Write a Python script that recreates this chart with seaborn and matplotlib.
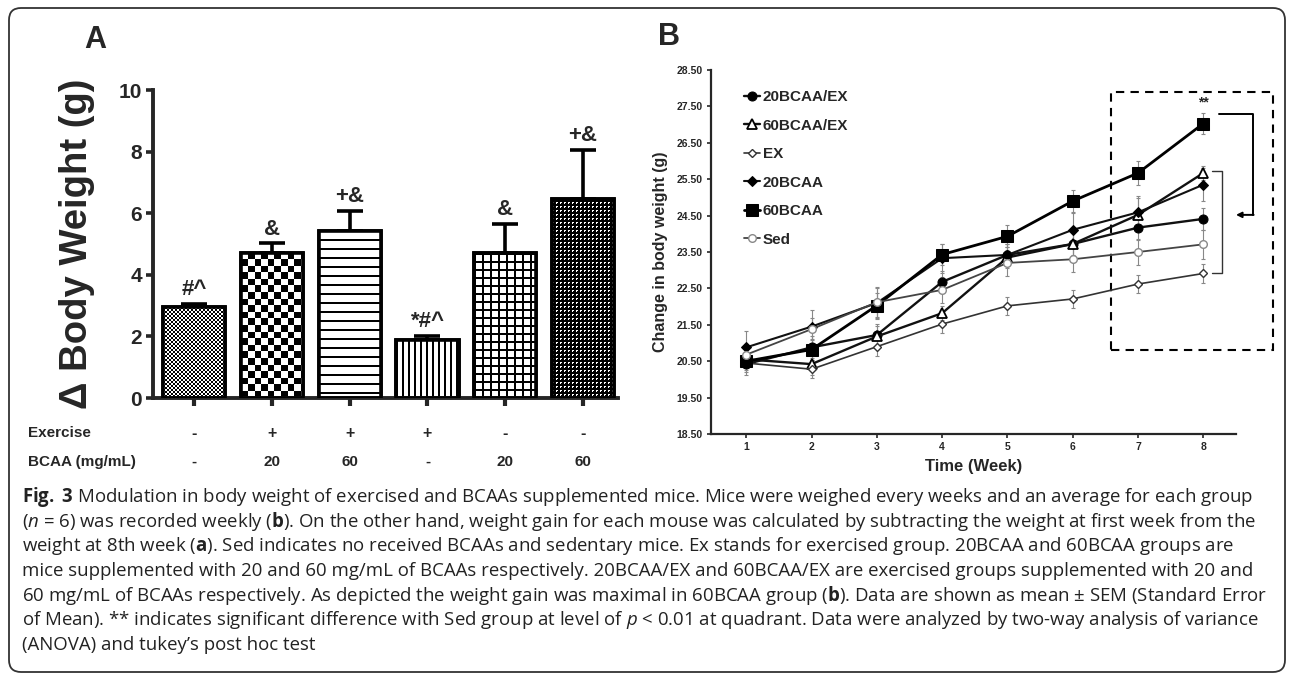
import numpy as np
import pandas as pd
import matplotlib
matplotlib.use("Agg")
import matplotlib.pyplot as plt
import seaborn as sns
from matplotlib.patches import Rectangle, FancyBboxPatch
from matplotlib.transforms import IdentityTransform

# ---------------- data ----------------
# Panel A
bar_groups = ["Sed", "20BCAA/EX", "60BCAA/EX", "EX", "20BCAA", "60BCAA"]
bar_values = [2.95, 4.72, 5.43, 1.87, 4.70, 6.47]
bar_sem = [0.10, 0.30, 0.65, 0.15, 0.95, 1.58]
bar_marks = ["#^", "&", "+&", "*#^", "&", "+&"]
exercise_row = ["-", "+", "+", "+", "-", "-"]
bcaa_row = ["-", "20", "60", "-", "20", "60"]
a_yticks = [0, 2, 4, 6, 8, 10]

# Panel B
weeks = [1, 2, 3, 4, 5, 6, 7, 8]
w_20bcaa_ex = [20.42, 20.88, 21.22, 22.68, 23.42, 23.72, 24.17, 24.41]
w_60bcaa_ex = [20.55, 20.42, 21.18, 21.82, 23.35, 23.72, 24.52, 25.67]
w_ex = [20.45, 20.28, 20.90, 21.52, 22.02, 22.21, 22.62, 22.91]
w_20bcaa = [20.88, 21.45, 22.10, 23.33, 23.42, 24.11, 24.59, 25.35]
w_60bcaa = [20.50, 20.82, 22.03, 23.43, 23.93, 24.90, 25.67, 27.03]
w_sed = [20.68, 21.38, 22.12, 22.46, 23.20, 23.30, 23.50, 23.71]
e_20bcaa_ex = [0.30, 0.30, 0.30, 0.30, 0.30, 0.35, 0.35, 0.30]
e_60bcaa_ex = [0.25, 0.30, 0.30, 0.20, 0.30, 0.30, 0.45, 0.20]
e_ex = [0.25, 0.25, 0.25, 0.25, 0.25, 0.25, 0.25, 0.25]
e_20bcaa = [0.45, 0.45, 0.45, 0.40, 0.30, 0.45, 0.45, 0.45]
e_60bcaa = [0.25, 0.30, 0.35, 0.30, 0.30, 0.30, 0.32, 0.30]
e_sed = [0.30, 0.30, 0.40, 0.35, 0.35, 0.35, 0.35, 0.40]
b_yticks = [18.5, 19.5, 20.5, 21.5, 22.5, 23.5, 24.5, 25.5, 26.5, 27.5, 28.5]

caption_lines = [
    r"$\bf{Fig.}$ $\bf{3}$ Modulation in body weight of exercised and BCAAs supplemented mice. Mice were weighed every weeks and an average for each group",
    r"($\it{n}$ = 6) was recorded weekly ($\bf{b}$). On the other hand, weight gain for each mouse was calculated by subtracting the weight at first week from the",
    r"weight at 8th week ($\bf{a}$). Sed indicates no received BCAAs and sedentary mice. Ex stands for exercised group. 20BCAA and 60BCAA groups are",
    r"mice supplemented with 20 and 60 mg/mL of BCAAs respectively. 20BCAA/EX and 60BCAA/EX are exercised groups supplemented with 20 and",
    r"60 mg/mL of BCAAs respectively. As depicted the weight gain was maximal in 60BCAA group ($\bf{b}$). Data are shown as mean ± SEM (Standard Error",
    r"of Mean). ** indicates significant difference with Sed group at level of $\it{p}$ < 0.01 at quadrant. Data were analyzed by two-way analysis of variance",
    r"(ANOVA) and tukey’s post hoc test",
]

# ---------------- style ----------------
sns.set_theme(style="ticks")
plt.rcParams["font.family"] = ["Liberation Sans", "DejaVu Sans"]
plt.rcParams["mathtext.fontset"] = "custom"
plt.rcParams["mathtext.rm"] = "Open Sans"
plt.rcParams["mathtext.bf"] = "Open Sans:bold"
plt.rcParams["mathtext.it"] = "Open Sans:italic"

W, H = 1292, 679
fig = plt.figure(figsize=(W / 100, H / 100), dpi=100)
fig.patch.set_facecolor("white")

def fax(l, t, r, b):
    return [l / W, 1 - b / H, (r - l) / W, (b - t) / H]

# ---------------- Panel A ----------------
axA = fig.add_axes(fax(153, 90, 618, 398))
dfA = pd.DataFrame({"group": bar_groups, "value": bar_values})
sns.barplot(data=dfA, x="group", y="value", order=bar_groups, color="white",
            edgecolor="black", linewidth=2.6, width=0.8, ax=axA, zorder=2)
xpos = np.arange(len(bar_groups))
axA.errorbar(xpos, bar_values, yerr=[np.zeros(len(bar_sem)), bar_sem], fmt="none",
             ecolor="black", elinewidth=2.6, capsize=9.5, capthick=2.6, zorder=1)
axA.set_xlim(-0.53, 5.45)
axA.set_ylim(0, 10)
fig.canvas.draw()

def pattern(kind, w, h):
    j, i = np.meshgrid(np.arange(w), np.arange(h))
    if kind == "fine":
        p = ((i // 2 + j // 2) % 2).astype(float)
    elif kind == "checker":
        p = ((np.floor(i / 6.6) + np.floor(j / 6.6)) % 2).astype(float)
    elif kind == "hlines":
        p = ((i % 9) < 2).astype(float)
    elif kind == "vlines":
        p = ((j % 6) < 1.5).astype(float)
    elif kind == "grid":
        p = (((i % 8) < 2) | ((j % 8) < 2)).astype(float)
    else:
        white = ((i % 4 == 0) & (j % 4 < 2)) | ((j % 4 == 0) & (i % 4 == 1))
        p = 1.0 - white.astype(float)
    return 1.0 - p  # 1 = white

kinds = ["fine", "checker", "hlines", "vlines", "grid", "dense"]
for patch, kind in zip(axA.patches, kinds):
    x0, y0 = patch.get_x(), patch.get_y()
    bw, bh = patch.get_width(), patch.get_height()
    (px0, py0) = axA.transData.transform((x0, y0))
    (px1, py1) = axA.transData.transform((x0 + bw, y0 + bh))
    pw, ph = int(abs(px1 - px0)) + 1, int(abs(py1 - py0)) + 1
    img = pattern(kind, pw, ph)
    im = axA.imshow(img, extent=(x0, x0 + bw, y0, y0 + bh), cmap="gray", vmin=0, vmax=1,
                    interpolation="nearest", aspect="auto", origin="upper", zorder=2.5)
    im.set_clip_path(patch)
    axA.add_patch(Rectangle((x0, y0), bw, bh, fill=False, ec="black", lw=2.6, zorder=3))

for x, v, e, m in zip(xpos, bar_values, bar_sem, bar_marks):
    axA.text(x, v + e + 0.12, m, ha="center", va="bottom", fontsize=16, fontweight="bold")

axA.set_xlim(-0.53, 5.45)
axA.set_ylim(0, 10)
axA.set_yticks(a_yticks)
axA.set_xticks(xpos)
axA.set_xticklabels([])
axA.set_xlabel("")
axA.set_ylabel("Δ Body Weight (g)", fontsize=27.5, fontweight="bold")
axA.yaxis.set_label_coords(-0.125, 0.5)
for s in ["top", "right"]:
    axA.spines[s].set_visible(False)
for s in ["left", "bottom"]:
    axA.spines[s].set_linewidth(2.8)
axA.tick_params(axis="y", length=5, width=2.6, labelsize=15, pad=3)
axA.tick_params(axis="x", length=6, width=3, pad=2)
for lab in axA.get_yticklabels():
    lab.set_fontweight("bold")

for x, ex, bc in zip(xpos, exercise_row, bcaa_row):
    axA.text(x, -1.14, ex, ha="center", va="center", fontsize=11.5, fontweight="bold", clip_on=False)
    axA.text(x, -2.08, bc, ha="center", va="center", fontsize=11, fontweight="bold", clip_on=False)
fig.text(28 / W, 1 - 433 / H, "Exercise", ha="left", va="center", fontsize=11, fontweight="bold")
fig.text(28 / W, 1 - 462 / H, "BCAA (mg/mL)", ha="left", va="center", fontsize=11, fontweight="bold")
fig.text(95 / W, 1 - 40 / H, "A", ha="center", va="center", fontsize=22, fontweight="bold")

# ---------------- Panel B ----------------
axB = fig.add_axes(fax(711, 70, 1236, 434))
series = [
    ("20BCAA/EX", w_20bcaa_ex, e_20bcaa_ex, dict(marker="o", ms=6.5, mfc="black", mec="black", color="#111111", lw=1.7)),
    ("60BCAA/EX", w_60bcaa_ex, e_60bcaa_ex, dict(marker="^", ms=6.5, mfc="white", mec="black", mew=1.3, color="#111111", lw=1.7)),
    ("EX", w_ex, e_ex, dict(marker="D", ms=4.2, mfc="white", mec="#333333", mew=1.0, color="#333333", lw=1.2)),
    ("20BCAA", w_20bcaa, e_20bcaa, dict(marker="D", ms=4.8, mfc="black", mec="black", color="#111111", lw=1.5)),
    ("60BCAA", w_60bcaa, e_60bcaa, dict(marker="s", ms=8, mfc="black", mec="black", color="black", lw=2.0)),
    ("Sed", w_sed, e_sed, dict(marker="o", ms=5.5, mfc="white", mec="#888888", mew=1.0, color="#444444", lw=1.3)),
]
for name, vals, errs, st in series:
    axB.errorbar(weeks, vals, yerr=errs, fmt="none", ecolor="#888888", elinewidth=0.8,
                 capsize=1.6, capthick=0.8, zorder=1)
for name, vals, errs, st in series:
    sns.lineplot(x=weeks, y=vals, ax=axB, label=name, zorder=3, **st)

axB.set_xlim(0.46, 8.5)
axB.set_ylim(18.5, 28.5)
axB.set_yticks(b_yticks)
axB.set_yticklabels([f"{t:.2f}" for t in b_yticks])
axB.set_xticks(weeks)
for s in ["top", "right"]:
    axB.spines[s].set_visible(False)
for s in ["left", "bottom"]:
    axB.spines[s].set_linewidth(1.6)
axB.tick_params(axis="both", length=3, width=1.2, labelsize=7.5, pad=3)
for lab in axB.get_yticklabels() + axB.get_xticklabels():
    lab.set_fontweight("bold")
axB.set_xlabel("Time (Week)", fontsize=12, fontweight="bold", labelpad=5)
axB.set_ylabel("Change in body weight (g)", fontsize=11.5, fontweight="bold", labelpad=6)

h, l = axB.get_legend_handles_labels()
leg = axB.legend(h, l, loc="upper left", bbox_to_anchor=(0.062, 0.945), frameon=False,
                 prop=dict(weight="bold", size=11), handlelength=1.1, handletextpad=0.15,
                 labelspacing=0.95, borderpad=0, borderaxespad=0)

# dashed box, brackets, significance mark
axB.add_patch(Rectangle((6.59, 20.81), 2.48, 7.09, fill=False, ls=(0, (4, 3)), lw=1.5,
                        ec="black", clip_on=False, zorder=2))
axB.plot([8.24, 8.76, 8.76], [27.29, 27.29, 24.52], color="black", lw=1.4, clip_on=False)
axB.annotate("", xy=(8.50, 24.52), xytext=(8.77, 24.52),
             arrowprops=dict(arrowstyle="-|>", color="black", lw=1.4, mutation_scale=8,
                             shrinkA=0, shrinkB=0), annotation_clip=False)
axB.plot([8.14, 8.29, 8.29, 8.14], [25.73, 25.73, 22.93, 22.93], color="#333333", lw=1.0,
         clip_on=False)
axB.text(8.0, 27.42, "**", ha="center", va="bottom", fontsize=10, fontweight="bold")
fig.text(669 / W, 1 - 37 / H, "B", ha="center", va="center", fontsize=22, fontweight="bold")

# ---------------- caption ----------------
y0 = 497
for k, line in enumerate(caption_lines):
    fig.text(22 / W, 1 - (y0 + k * 24.6) / H, line, ha="left", va="center", fontsize=13.4,
             family="Open Sans", color="#222222")

# outer rounded border
border = FancyBboxPatch((9, 7), 1276, 664, boxstyle="round,pad=0,rounding_size=12",
                        transform=IdentityTransform(), fill=False, ec="#333333", lw=1.3)
fig.patches.append(border)

fig.savefig("out.png", dpi=100, facecolor="white")
